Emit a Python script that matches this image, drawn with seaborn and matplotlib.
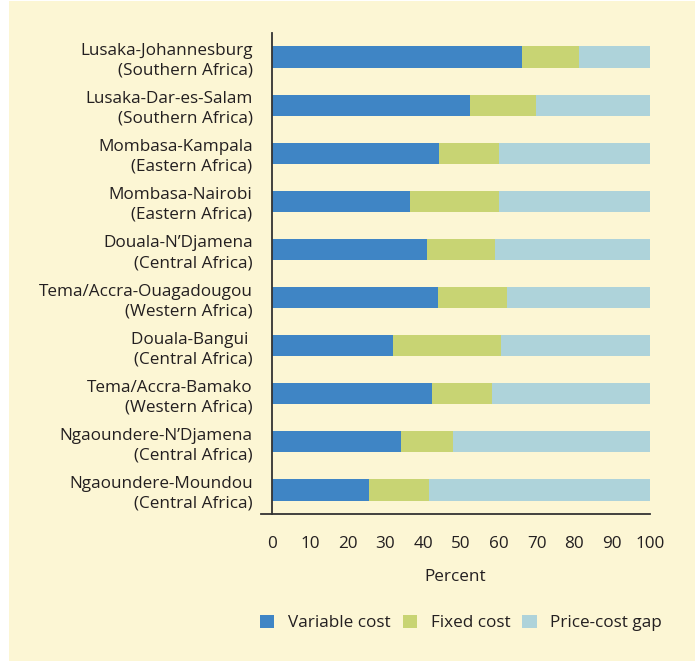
import matplotlib
matplotlib.use('Agg')
import matplotlib.pyplot as plt
from matplotlib.patches import Patch, Rectangle
import numpy as np
import pandas as pd
import seaborn as sns

routes = ['Lusaka-Johannesburg\n(Southern Africa)',
          'Lusaka-Dar-es-Salam\n(Southern Africa)',
          'Mombasa-Kampala\n(Eastern Africa)',
          'Mombasa-Nairobi\n(Eastern Africa)',
          'Douala-N\u2019Djamena\n(Central Africa)',
          'Tema/Accra-Ouagadougou\n(Western Africa)',
          'Douala-Bangui \n(Central Africa)',
          'Tema/Accra-Bamako\n(Western Africa)',
          'Ngaoundere-N\u2019Djamena\n(Central Africa)',
          'Ngaoundere-Moundou\n(Central Africa)']
variable_cost = [66.1, 52.4, 44.2, 36.5, 41.0, 43.9, 32.0, 42.3, 34.1, 25.7]
fixed_cost = [15.1, 17.4, 15.9, 23.6, 18.0, 18.3, 28.6, 15.9, 13.8, 15.8]
price_gap = [18.8, 30.2, 39.9, 39.9, 41.0, 37.8, 39.4, 41.8, 52.1, 58.5]

series = ['Variable cost', 'Fixed cost', 'Price-cost gap']
colors = ['#3f85c5', '#c8d473', '#aed3da']

sns.set_style('white')
plt.rcParams['font.family'] = ['Open Sans', 'DejaVu Sans']
txt = '#231f20'
fs = 12.3

df = pd.DataFrame({'route': routes, 'var': variable_cost,
                   'fix': fixed_cost, 'gap': price_gap})
df['end_var'] = df['var']
df['end_fix'] = df['var'] + df['fix']
df['end_gap'] = df['end_fix'] + df['gap']

fig = plt.figure(figsize=(6.95, 6.61), dpi=100, facecolor='white')
fig.patches.append(Rectangle((9 / 695, 0), 1, 0.999, transform=fig.transFigure,
                             facecolor='#fcf6d4', edgecolor='none', zorder=-10))
ax = fig.add_axes([261 / 695, 1 - 514 / 661, 389 / 695, 481 / 661])
ax.set_facecolor('none')

# stack back to front
for col, c in zip(['end_gap', 'end_fix', 'end_var'], colors[::-1]):
    sns.barplot(data=df, x=col, y='route', color=c, orient='h', width=0.44,
                saturation=1, ax=ax, edgecolor='none', linewidth=0)

ax.set_xlim(-2.9, 100)
ax.set_ylim(len(routes) - 0.5, -0.5)
ax.set_xticks(np.arange(0, 101, 10))
ax.set_yticks(np.arange(-0.5, len(routes) + 0.5, 1), minor=True)

for s in ['top', 'right']:
    ax.spines[s].set_visible(False)
ax.spines['left'].set_position(('data', 0))
for s in ['left', 'bottom']:
    ax.spines[s].set_color('#333333')
    ax.spines[s].set_linewidth(1.3)

ax.tick_params(axis='y', which='major', length=0, pad=14, labelsize=fs,
               labelcolor=txt)
ax.tick_params(axis='y', which='minor', length=8, width=1.3, color='#333333',
               direction='out')
ax.tick_params(axis='x', length=7, width=1.3, color='#333333', direction='out',
               pad=9, labelsize=fs, labelcolor=txt)
for lab in ax.get_yticklabels():
    lab.set_multialignment('right')
    lab.set_linespacing(1.3)

ax.set_ylabel('')
ax.set_xlabel('Percent', fontsize=fs, color=txt, labelpad=12)

handles = [Patch(facecolor=c, edgecolor='none') for c in colors]
fig.legend(handles, series, loc='center', bbox_to_anchor=(461 / 695, 1 - 623 / 661),
           ncol=3, frameon=False, fontsize=fs, handlelength=0.85,
           handleheight=0.85, handletextpad=0.8, columnspacing=0.7,
           labelcolor=txt)

fig.savefig('out.png', dpi=100, facecolor='white')
